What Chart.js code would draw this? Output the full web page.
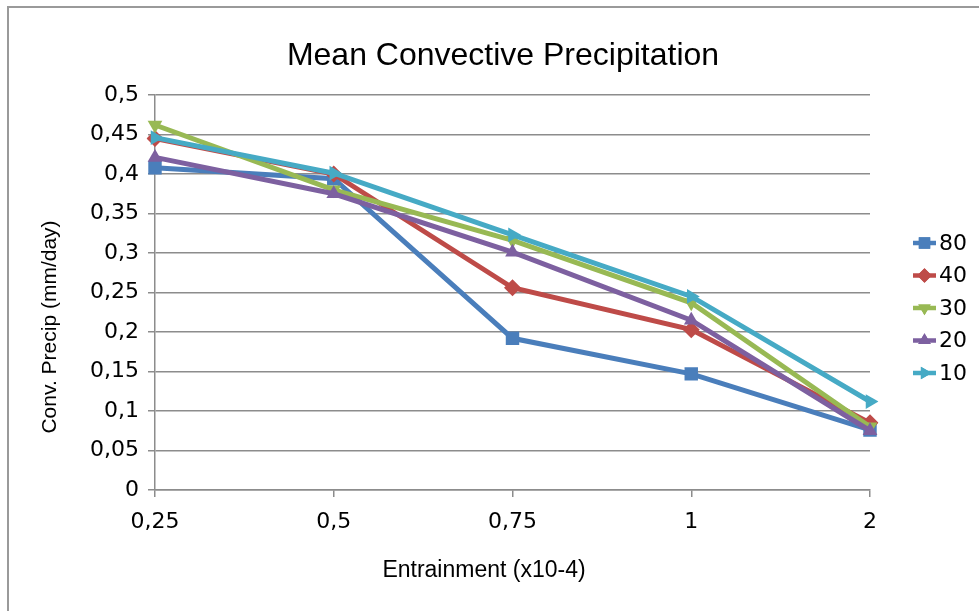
<!DOCTYPE html>
<html>
<head>
<meta charset="utf-8">
<script src="https://cdn.jsdelivr.net/npm/chart.js@4.4.0/dist/chart.umd.min.js"></script>
<style>
  html, body { margin: 0; padding: 0; background: #fff; overflow: hidden; }
  #wrap { position: relative; width: 979px; height: 611px; }
  #frame { position: absolute; left: 7px; top: 6px; width: 1000px; height: 700px;
           border-left: 2px solid #9a9a9a; border-top: 2px solid #9a9a9a; box-sizing: border-box; }
  canvas { position: absolute; left: 0; top: 0; }
</style>
</head>
<body>
<div id="wrap">
  <div id="frame"></div>
  <canvas id="chart" width="979" height="611"></canvas>
</div>
<script>
// data
const categories = ['0,25', '0,5', '0,75', '1', '2'];
const seriesNames = ['80', '40', '30', '20', '10'];
const s80 = [0.408, 0.394, 0.192, 0.147, 0.076];
const s40 = [0.445, 0.400, 0.256, 0.203, 0.085];
const s30 = [0.462, 0.380, 0.316, 0.237, 0.080];
const s20 = [0.421, 0.375, 0.301, 0.215, 0.075];
const s10 = [0.446, 0.401, 0.323, 0.245, 0.112];

const titleText = 'Mean Convective Precipitation';
const xTitle = 'Entrainment (x10-4)';
const yTitle = 'Conv. Precip (mm/day)';

const colors = ['#4a7ebb', '#be4b48', '#98b954', '#7d60a0', '#46aac5'];
const markers = [
  { style: 'rect', rot: 0, r: 9.5 },
  { style: 'rectRot', rot: 0, r: 8.5 },
  { style: 'triangle', rot: 180, r: 8.5 },
  { style: 'triangle', rot: 0, r: 8.5 },
  { style: 'triangle', rot: 90, r: 8.5 }
];
const allSeries = [s80, s40, s30, s20, s10];

const datasets = allSeries.map((vals, i) => ({
  label: seriesNames[i],
  data: vals,
  borderColor: colors[i],
  backgroundColor: colors[i],
  borderWidth: 5,
  pointStyle: markers[i].style,
  pointRotation: markers[i].rot,
  pointRadius: markers[i].r,
  pointBorderWidth: 0,
  tension: 0,
  order: 4 - i
}));

// titles and legend are drawn by hand so they sit where the original has them
const textPlugin = {
  id: 'textPlugin',
  afterDraw(chart) {
    const ctx = chart.ctx;
    ctx.save();
    ctx.fillStyle = '#000';
    ctx.textAlign = 'center';
    ctx.textBaseline = 'middle';
    ctx.font = '32px "Liberation Sans"';
    ctx.fillText(titleText, 503, 56);
    ctx.font = '23px "Liberation Sans"';
    ctx.fillText(xTitle, 484, 571);
    ctx.font = '21px "Liberation Sans"';
    ctx.translate(50, 327);
    ctx.rotate(-Math.PI / 2);
    ctx.fillText(yTitle, 0, 0);
    ctx.restore();

    // legend
    ctx.save();
    ctx.font = '22px "DejaVu Sans"';
    ctx.textAlign = 'left';
    ctx.textBaseline = 'middle';
    chart.data.datasets.forEach((ds, i) => {
      const y = 243 + i * 32.5;
      ctx.strokeStyle = ds.borderColor;
      ctx.lineWidth = 4.5;
      ctx.beginPath();
      ctx.moveTo(913, y);
      ctx.lineTo(936, y);
      ctx.stroke();
      ctx.fillStyle = ds.backgroundColor;
      Chart.helpers.drawPoint(ctx, {
        pointStyle: ds.pointStyle, rotation: ds.pointRotation,
        radius: ds.pointRadius * 0.85, borderWidth: 0
      }, 924.5, y);
      ctx.fill();
      ctx.fillStyle = '#000';
      ctx.fillText(ds.label, 939, y + 1);
    });
    ctx.restore();
  }
};

new Chart(document.getElementById('chart'), {
  type: 'line',
  data: { labels: categories, datasets },
  options: {
    responsive: false,
    animation: false,
    layout: { padding: { left: 0, top: 95, right: 109, bottom: 0 } },
    plugins: { legend: { display: false }, title: { display: false }, tooltip: { enabled: false } },
    scales: {
      x: {
        offset: false,
        afterFit(scale) { scale.height = 121; },
        grid: { drawOnChartArea: false, drawTicks: true, tickLength: 7, color: '#8c8c8c', lineWidth: 1.5 },
        border: { color: '#8c8c8c', width: 1.5 },
        ticks: { color: '#000', font: { family: 'DejaVu Sans', size: 22 }, padding: 12, maxRotation: 0 }
      },
      y: {
        min: 0,
        max: 0.5,
        afterFit(scale) { scale.width = 155; },
        grid: { color: '#8c8c8c', lineWidth: 1.5, tickLength: 7 },
        border: { color: '#8c8c8c', width: 1.5 },
        ticks: {
          stepSize: 0.05,
          color: '#000',
          font: { family: 'DejaVu Sans', size: 22 },
          padding: 9,
          callback: v => String(Number(v.toFixed(2))).replace('.', ',')
        }
      }
    }
  },
  plugins: [textPlugin]
});
</script>
</body>
</html>
